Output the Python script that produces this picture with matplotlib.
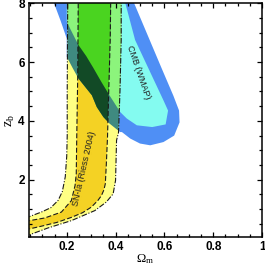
import numpy as np
import matplotlib
matplotlib.use('Agg')
import matplotlib.pyplot as plt
from matplotlib.patches import Polygon
from matplotlib.ticker import MultipleLocator

# -----------------------------------------------------------------------------------------------------------
# donnees
# -----------------------------------------------------------------------------------------------------------
# SN-Ia : bords des bandes (gauche = haut, droite = bas)
sn_out_left_x = [0.03, 0.048, 0.096, 0.135, 0.165, 0.182, 0.194, 0.200, 0.202, 0.202, 0.204, 0.204]
sn_out_left_y = [0.70, 0.75, 0.90, 1.05, 1.30, 1.60, 2.10, 2.80, 3.50, 5.00, 8.00, 8.50]
sn_in_left_x = [0.03, 0.048, 0.110, 0.178, 0.219, 0.234, 0.239, 0.241, 0.245, 0.247, 0.247]
sn_in_left_y = [0.58, 0.61, 0.70, 0.90, 1.29, 1.80, 2.20, 3.45, 5.50, 8.00, 8.50]
sn_in_right_x = [0.03, 0.048, 0.096, 0.160, 0.219, 0.265, 0.301, 0.328, 0.342, 0.352, 0.358, 0.362, 0.367,
                 0.372, 0.378, 0.380, 0.380]
sn_in_right_y = [0.30, 0.33, 0.42, 0.55, 0.72, 0.88, 1.07, 1.30, 1.46, 1.65, 1.86, 2.50, 3.45,
                 5.00, 6.75, 8.00, 8.50]
sn_out_right_x = [0.03, 0.048, 0.123, 0.219, 0.315, 0.362, 0.390, 0.400, 0.404, 0.412, 0.418, 0.423, 0.423, 0.424]
sn_out_right_y = [0.08, 0.13, 0.36, 0.61, 0.95, 1.24, 1.52, 1.98, 3.34, 3.60, 5.00, 6.75, 8.00, 8.50]

# CMB (WMAP) : contours fermes
cmb_out_x = [0.126, 0.148, 0.175, 0.200, 0.200, 0.224, 0.248, 0.275, 0.303, 0.323, 0.350, 0.375, 0.419,
             0.426, 0.460, 0.500, 0.542, 0.596, 0.640, 0.662, 0.660, 0.637, 0.588, 0.532, 0.476, 0.462]
cmb_out_y = [8.50, 8.00, 7.40, 6.80, 6.18, 5.80, 5.44, 5.16, 4.87, 4.47, 4.13, 3.91, 3.62,
             3.62, 3.40, 3.23, 3.17, 3.28, 3.50, 3.95, 4.35, 4.85, 5.80, 6.90, 8.00, 8.50]
cmb_in_x = [0.200, 0.200, 0.224, 0.248, 0.280, 0.309, 0.340, 0.375, 0.419, 0.446, 0.487, 0.550, 0.605,
            0.615, 0.596, 0.545, 0.480, 0.440, 0.432]
cmb_in_y = [8.50, 7.37, 6.97, 6.58, 6.20, 5.80, 5.35, 4.87, 4.30, 4.08, 3.85, 3.79, 3.88,
            4.35, 4.70, 5.60, 6.75, 8.00, 8.50]

xticks = [0.2, 0.4, 0.6, 0.8, 1.0]
xticklabels = ['0.2', '0.4', '0.6', '0.8', '1']
yticks = [2, 4, 6, 8]
yticklabels = ['2', '4', '6', '8']

# couleurs
c_blue = '#4f8ff5'
c_cyan = '#84fbf0'
c_lyel = '#ffff84'
c_gold = '#f4d224'
c_teal = '#3f8a80'
c_lgreen = '#8cf47c'
c_green = '#4ad420'
c_dgreen = '#124a26'

plt.rcParams['font.family'] = ['Liberation Sans', 'DejaVu Sans']
plt.rcParams['mathtext.fontset'] = 'custom'
plt.rcParams['mathtext.rm'] = 'Liberation Serif'
plt.rcParams['mathtext.it'] = 'Liberation Serif:italic'

# -----------------------------------------------------------------------------------------------------------
# figure
# -----------------------------------------------------------------------------------------------------------
fig = plt.figure(figsize=(2.65, 2.67), dpi=100)
ax = fig.add_axes([0.109, 0.112, 0.880, 0.876])
ax.set_xlim(0.045, 1.0)
ax.set_ylim(0.05, 8.0)

sn_out = np.column_stack([sn_out_left_x + sn_out_right_x[::-1], sn_out_left_y + sn_out_right_y[::-1]])
sn_in = np.column_stack([sn_in_left_x + sn_in_right_x[::-1], sn_in_left_y + sn_in_right_y[::-1]])
cmb_out = np.column_stack([cmb_out_x, cmb_out_y])
cmb_in = np.column_stack([cmb_in_x, cmb_in_y])

p_cmb_out = Polygon(cmb_out, closed=True, fc=c_blue, ec='none', zorder=1)
p_cmb_in = Polygon(cmb_in, closed=True, fc=c_cyan, ec='none', zorder=1.1)
ax.add_patch(p_cmb_out)
ax.add_patch(p_cmb_in)
ax.add_patch(Polygon(sn_out, closed=True, fc=c_lyel, ec='none', zorder=1.2))
ax.add_patch(Polygon(sn_in, closed=True, fc=c_gold, ec='none', zorder=1.3))

# recouvrements SN / CMB
def recouvrement(xy, clip, color, z):
    p = Polygon(xy, closed=True, fc=color, ec='none', zorder=z)
    ax.add_patch(p)
    p.set_clip_path(clip)
    p.set_clip_box(ax.bbox)
#}

recouvrement(sn_out, p_cmb_out, c_teal, 1.4)
recouvrement(sn_out, p_cmb_in, c_lgreen, 1.5)
recouvrement(sn_in, p_cmb_out, c_dgreen, 1.6)
recouvrement(sn_in, p_cmb_in, c_green, 1.7)

lc = '#1a1a1a'
ax.plot(sn_out_left_x, sn_out_left_y, color=lc, lw=0.8, dashes=(5, 1.5, 1, 1.5), zorder=3)
ax.plot(sn_out_right_x, sn_out_right_y, color=lc, lw=0.8, dashes=(5, 1.5, 1, 1.5), zorder=3)
ax.plot(sn_in_left_x, sn_in_left_y, color=lc, lw=0.8, dashes=(4.5, 2), zorder=3)
ax.plot(sn_in_right_x, sn_in_right_y, color=lc, lw=0.8, dashes=(4.5, 2), zorder=3)

ax.text(0.494, 5.67, 'CMB (WMAP)', rotation=-71, fontsize=6.5, ha='center', va='center', color='#222222', zorder=4)
ax.text(0.271, 2.37, 'SN-Ia (Riess 2004)', rotation=77, fontsize=6.5, ha='center', va='center', color='#222222',
        zorder=4)

# axes
ax.set_xticks(xticks)
ax.set_xticklabels(xticklabels, fontweight='bold', fontsize=8.5)
ax.set_yticks(yticks)
ax.set_yticklabels(yticklabels, fontweight='bold', fontsize=8.5)
ax.xaxis.set_minor_locator(MultipleLocator(0.05))
ax.yaxis.set_minor_locator(MultipleLocator(0.5))
ax.tick_params(which='both', direction='in', top=True, right=True, width=0.9)
ax.tick_params(which='major', length=3.5, pad=3)
ax.tick_params(which='minor', length=2)
for s in ax.spines.values():
    s.set_linewidth(1.1)
#}

ax.set_xlabel(r'$\Omega_{\rm m}$', fontsize=9, labelpad=-1)
ax.set_ylabel(r'$\rm z_b$', fontsize=10, labelpad=1)

fig.savefig('out.png', dpi=100)
